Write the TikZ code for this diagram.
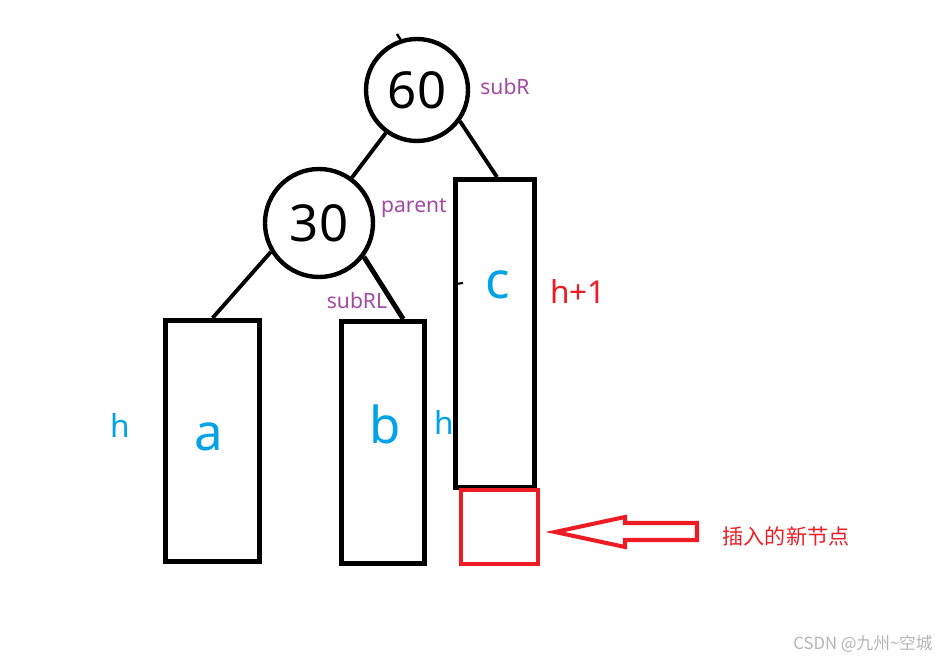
\documentclass[tikz,border=0pt]{standalone}
\usepackage{fontspec}
\setmainfont{Noto Sans}
\newfontfamily\cjkfont{Noto Sans CJK SC}
\usetikzlibrary{calc}
\definecolor{avlInk}{HTML}{000000}
\definecolor{avlBlue}{HTML}{00A2E8}
\definecolor{avlRed}{HTML}{ED1C24}
\definecolor{avlPurple}{HTML}{A349A4}
\definecolor{avlGrey}{HTML}{B4B4B4}
\tikzset{
  avl/key/.style={circle, draw=avlInk, line width=2.5pt, inner sep=0pt,
    font=\fontsize{29}{30}\selectfont},
  avl/subtree/.style={rectangle, draw=avlInk, line width=2.8pt, inner sep=0pt},
  avl/inserted/.style={rectangle, draw=avlRed, line width=2.7pt, inner sep=0pt},
  avl/edge/.style={draw=avlInk, line width=2.2pt},
  avl/name/.style={font=\fontsize{12}{14}\selectfont, text=avlPurple, inner sep=0pt},
  avl/letter/.style={font=\fontsize{29}{30}\selectfont, text=avlBlue, inner sep=0pt},
  avl/height/.style={font=\fontsize{18}{20}\selectfont, inner sep=0pt},
}

\begin{document}
\begin{tikzpicture}[x=0.02cm, y=-0.02cm]
\useasboundingbox (0,0) rectangle (941,661);

% tree nodes
\node[avl/key, minimum size=2.04cm] (n60) at (417,90) {60};
\node[avl/key, minimum size=2.16cm] (n30) at (319,223) {30};
\node[avl/name] (subR) at (505,87) {subR};
\node[avl/name] (parent) at (414,208) {parent};
\node[avl/name] (subRL) at (357,301) {subRL};

% subtrees
\node[avl/subtree, minimum width=1.88cm, minimum height=4.82cm] (a) at (212.5,441) {};
\node[avl/subtree, minimum width=1.66cm, minimum height=4.84cm] (b) at (383,442.5) {};
\node[avl/subtree, minimum width=1.58cm, minimum height=6.16cm] (c) at (495,333.5) {};
\node[avl/inserted, minimum width=1.54cm, minimum height=1.48cm] (new) at (499.5,527) {};

\node[avl/letter] (la) at (209,437) {a};
\node[avl/letter] (lb) at (385,424) {b};
\node[avl/letter] (lc) at (498,285) {c};
\node[avl/height, text=avlBlue] (ha) at (120,425) {h};
\node[avl/height, text=avlBlue] (hb) at (444,422) {h};
\node[avl/height, text=avlRed] (hc) at (578,291) {h+1};

% edges
\draw[avl/edge] (n60.-126) -- (n30.54);
\draw[avl/edge] (n60.-36) -- ($(c.north)+(2,0)$);
\draw[avl/edge] (n30.211) -- (a.north);
\draw[avl/edge, line width=2.8pt] (n30.-37) -- ($(b.north)!0.46!(b.north east)$);

% stray pen marks
\draw[avl/edge, line width=1.4pt] (397,34) -- (402,42);
\draw[avl/edge, line width=1.2pt] (456,284) -- (463,283);

% inserted node pointer
\coordinate (tip) at (555,532);
\draw[draw=avlRed, line width=2.3pt, line join=miter]
  (tip) -- ++(70,-15) -- ++(0,6) -- ++(72,0) -- ++(0,17) -- ++(-72,0) -- ++(0,7) -- cycle;
\node[font=\cjkfont\fontsize{12}{14}\selectfont, text=avlRed, inner sep=0pt] (note) at (786,536)
  {插入的新节点};

\node[font=\cjkfont\fontsize{9.5}{11}\selectfont, text=avlGrey, inner sep=0pt] (mark) at (863,644)
  {CSDN @九州\textasciitilde 空城};
\end{tikzpicture}
\end{document}
